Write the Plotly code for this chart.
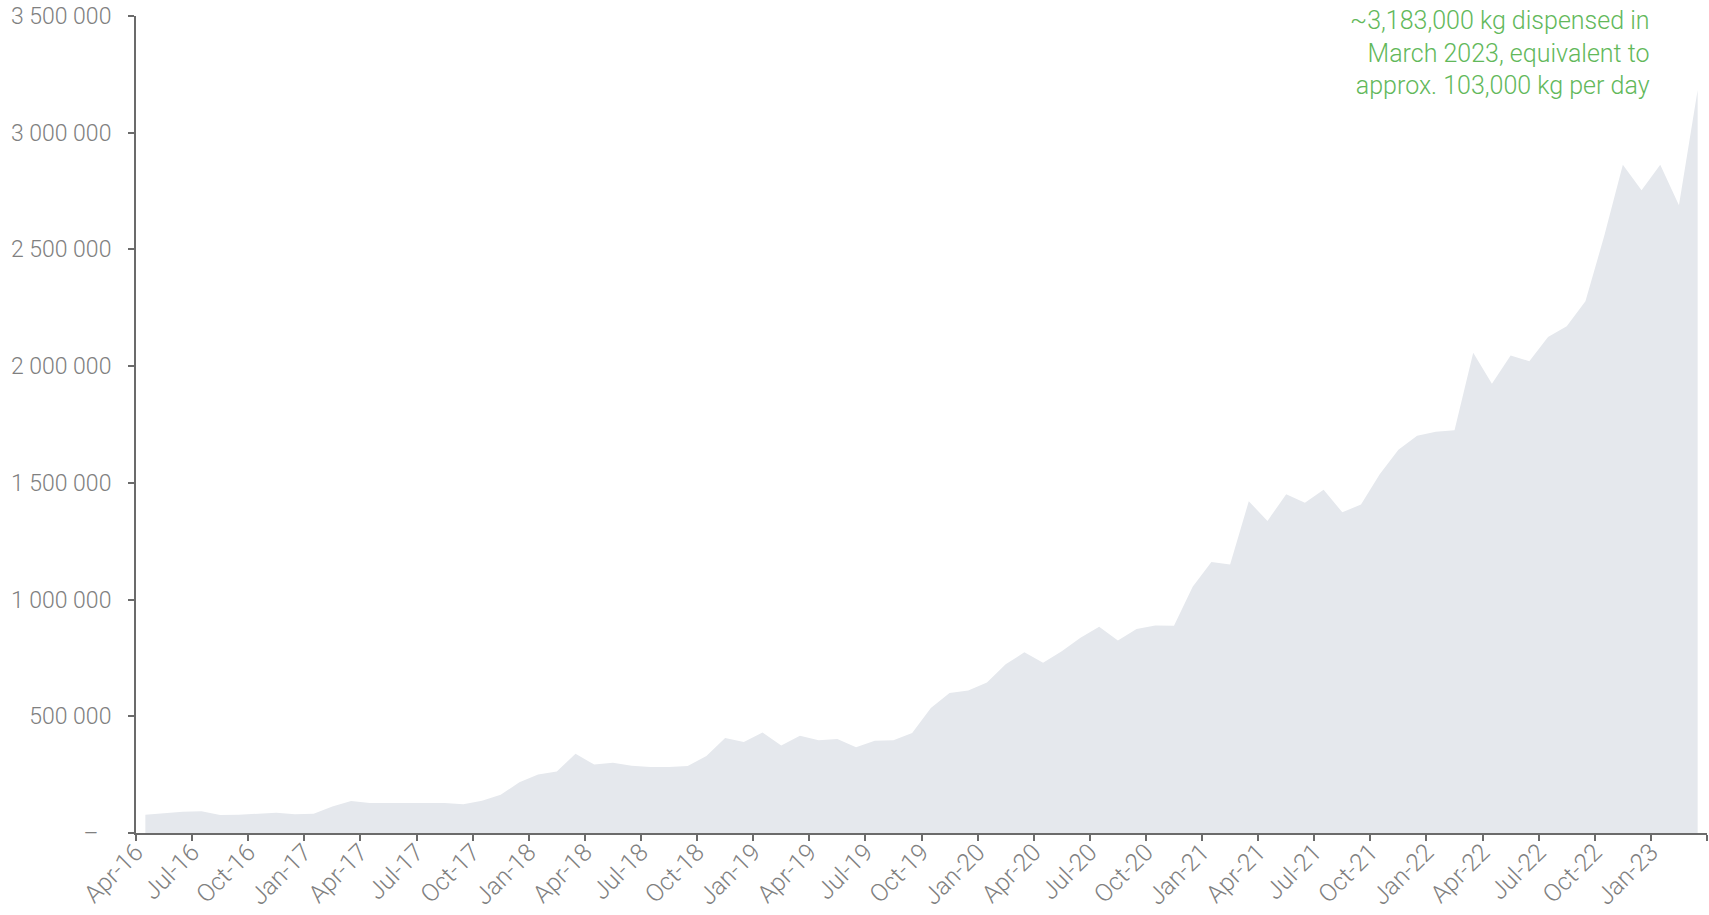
import plotly.graph_objects as go
import pandas as pd

# Monthly categories: Apr-2016 .. Mar-2023
months = [d.strftime("%b-%y") for d in pd.date_range("2016-04-01", "2023-03-01", freq="MS")]

# kg dispensed per month
kg_dispensed = [
    78000, 84000, 91000, 93000, 77000, 78000, 84000, 87000, 80000, 83000,
    114000, 137000, 128000, 128000, 131000, 130000, 128000, 123000, 138000, 164000,
    217000, 251000, 263000, 340000, 293000, 301000, 288000, 283000, 283000, 287000,
    330000, 407000, 390000, 431000, 375000, 417000, 397000, 403000, 367000, 395000,
    397000, 428000, 535000, 600000, 611000, 645000, 723000, 774000, 729000, 779000,
    836000, 884000, 825000, 874000, 889000, 888000, 1055000, 1161000, 1150000, 1421000,
    1337000, 1451000, 1415000, 1470000, 1374000, 1407000, 1537000, 1642000, 1702000, 1719000,
    1725000, 2057000, 1925000, 2046000, 2021000, 2125000, 2171000, 2278000, 2556000, 2863000,
    2753000, 2863000, 2689000, 3183000,
]

x_tick_labels = [
    "Apr-16", "Jul-16", "Oct-16", "Jan-17", "Apr-17", "Jul-17", "Oct-17",
    "Jan-18", "Apr-18", "Jul-18", "Oct-18", "Jan-19", "Apr-19", "Jul-19",
    "Oct-19", "Jan-20", "Apr-20", "Jul-20", "Oct-20", "Jan-21", "Apr-21",
    "Jul-21", "Oct-21", "Jan-22", "Apr-22", "Jul-22", "Oct-22", "Jan-23",
]

y_tick_values = [0, 500000, 1000000, 1500000, 2000000, 2500000, 3000000, 3500000]
y_tick_labels = ["\u2013\u2007", "500 000", "1 000 000", "1 500 000", "2 000 000",
                 "2 500 000", "3 000 000", "3 500 000"]

annotation_text = ("~3,183,000 kg dispensed in<br>March 2023, equivalent to<br>"
                   "approx. 103,000 kg per day")

FONT = "Roboto"
AXIS_COL = "#6b6b6b"
LABEL_COL = "#808080"
FILL_COL = "#e5e8ed"
GREEN = "#62b85a"

idx = list(range(len(months)))

fig = go.Figure()
fig.add_trace(go.Scatter(
    x=idx, y=kg_dispensed, customdata=months,
    mode="lines", fill="tozeroy", fillcolor=FILL_COL,
    line=dict(width=0, color=FILL_COL),
    hovertemplate="%{customdata}: %{y:,}<extra></extra>",
    showlegend=False,
))

tickvals_x = [3 * i - 0.5 for i in range(len(x_tick_labels) + 1)]
ticktext_x = x_tick_labels + [""]

fig.update_layout(
    width=1709, height=915,
    margin=dict(l=136, r=2, t=16, b=82, autoexpand=False),
    paper_bgcolor="white", plot_bgcolor="white",
    font=dict(family=FONT, color=LABEL_COL),
    xaxis=dict(
        range=[-0.5, len(months) - 0.5],
        tickmode="array", tickvals=tickvals_x, ticktext=ticktext_x,
        tickangle=-45, automargin=False,
        ticks="outside", ticklen=6, tickwidth=2, tickcolor=AXIS_COL,
        ticklabelstandoff=-13,
        showline=True, linecolor=AXIS_COL, linewidth=2,
        showgrid=False, zeroline=False,
        tickfont=dict(family=FONT, size=24.5, color=LABEL_COL, weight=300),
    ),
    yaxis=dict(
        range=[0, 3500000], automargin=False,
        tickmode="array", tickvals=y_tick_values, ticktext=y_tick_labels,
        ticks="outside", ticklen=6, tickwidth=2, tickcolor=AXIS_COL,
        ticklabelstandoff=12,
        showline=True, linecolor=AXIS_COL, linewidth=2,
        showgrid=False, zeroline=False,
        tickfont=dict(family=FONT, size=23, color=LABEL_COL, weight=300),
    ),
    annotations=[dict(
        text=annotation_text, xref="paper", yref="paper",
        x=0.965, y=1, xanchor="right", yanchor="top", yshift=12,
        align="right", showarrow=False,
        font=dict(family=FONT, size=25, color=GREEN, weight=300),
    )],
)

fig.write_html("out.html", config={"displayModeBar": False},
               post_script="document.body.style.margin='0px';")
